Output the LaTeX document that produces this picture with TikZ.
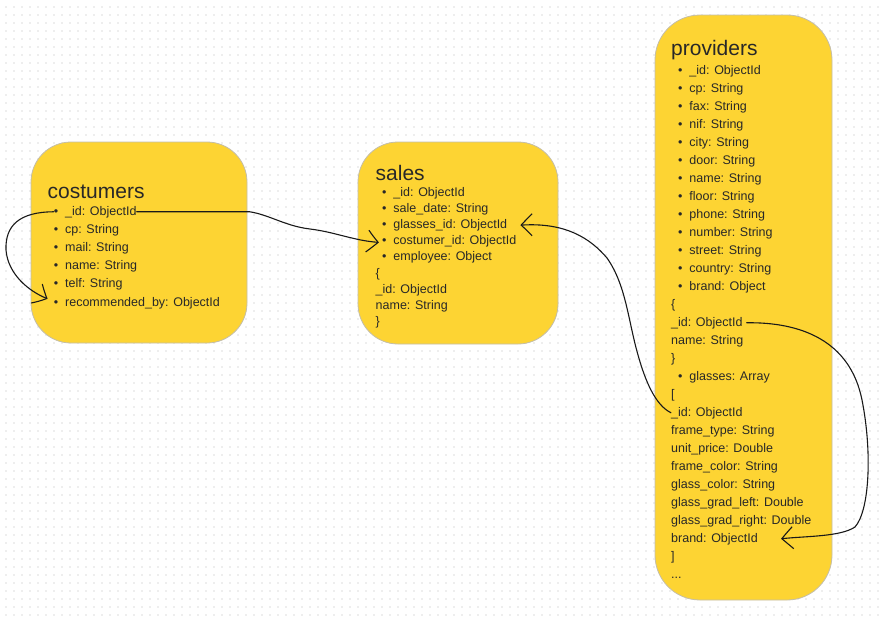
\documentclass[tikz,border=0pt]{standalone}
\usepackage{fontspec}
\setmainfont{Liberation Sans}
\usepackage{tikz}
\usetikzlibrary{arrows.meta,bending}

\definecolor{boxyellow}{RGB}{253,212,51}
\definecolor{boxline}{RGB}{196,190,170}
\definecolor{txt}{RGB}{40,40,40}
\definecolor{griddot}{RGB}{238,238,238}
\newcommand{\itemdot}{\textbullet\hspace{7pt}}

\begin{document}
\begin{tikzpicture}[x=1pt,y=-1pt]
	\useasboundingbox (0,0) rectangle (885,619);
	\foreach \y in {7,15,...,615}
		\draw[griddot,line width=2pt,dash pattern=on 2pt off 6pt] (5,\y) -- (885,\y);

	\begin{scope}[every node/.style={draw=boxline,fill=boxyellow,line width=0.8pt,rectangle}]
		\node[rounded corners=40pt,minimum width=216pt,minimum height=201pt] (costumers) at (139,242.5) {};
		\node[rounded corners=40pt,minimum width=200pt,minimum height=202pt] (sales) at (458,243) {};
		\node[rounded corners=45pt,minimum width=177pt,minimum height=585pt] (providers) at (743.5,307.5) {};
	\end{scope}

	\begin{scope}[every node/.style={anchor=base west,inner sep=0pt,text=txt,font=\fontsize{21}{25}\selectfont}]
		\node (c-title) at (47.5,198) {costumers};
		\node (s-title) at (375.5,180.5) {sales};
		\node (p-title) at (671,55.5) {providers};
	\end{scope}

	\begin{scope}[every node/.style={anchor=base west,inner sep=0pt,text=txt,font=\fontsize{12.5}{15}\selectfont}]
		\node (c-id) at (53.6,215) {\itemdot\_id: ObjectId};
		\node (c-cp) at (53.6,233.2) {\itemdot cp: String};
		\node (c-mail) at (53.6,251.4) {\itemdot mail: String};
		\node (c-name) at (53.6,269.6) {\itemdot name: String};
		\node (c-telf) at (53.6,287.8) {\itemdot telf: String};
		\node (c-rec) at (53.6,306) {\itemdot recommended\_by: ObjectId};

		\node (s-id) at (381.9,196) {\itemdot\_id: ObjectId};
		\node (s-date) at (381.9,212.2) {\itemdot sale\_date: String};
		\node (s-gid) at (381.9,228.4) {\itemdot glasses\_id: ObjectId};
		\node (s-cid) at (381.9,244.6) {\itemdot costumer\_id: ObjectId};
		\node (s-emp) at (381.9,260.8) {\itemdot employee: Object};
		\node (s-open) at (375.5,277) {\{};
		\node (s-eid) at (375.5,293.2) {\_id: ObjectId};
		\node (s-ename) at (375.5,309.4) {name: String};
		\node (s-close) at (375.5,325.6) {\}};

		\node (p-id) at (677.9,74) {\itemdot\_id: ObjectId};
		\node (p-cp) at (677.9,92) {\itemdot cp: String};
		\node (p-fax) at (677.9,110) {\itemdot fax: String};
		\node (p-nif) at (677.9,128) {\itemdot nif: String};
		\node (p-city) at (677.9,146) {\itemdot city: String};
		\node (p-door) at (677.9,164) {\itemdot door: String};
		\node (p-name) at (677.9,182) {\itemdot name: String};
		\node (p-floor) at (677.9,200) {\itemdot floor: String};
		\node (p-phone) at (677.9,218) {\itemdot phone: String};
		\node (p-number) at (677.9,236) {\itemdot number: String};
		\node (p-street) at (677.9,254) {\itemdot street: String};
		\node (p-country) at (677.9,272) {\itemdot country: String};
		\node (p-brand) at (677.9,290) {\itemdot brand: Object};
		\node (p-bopen) at (671,308) {\{};
		\node (p-bid) at (671,326) {\_id: ObjectId};
		\node (p-bname) at (671,344) {name: String};
		\node (p-bclose) at (671,362) {\}};
		\node (p-glasses) at (677.9,380) {\itemdot glasses: Array};
		\node (p-gopen) at (671,398) {[};
		\node (p-gid) at (671,416) {\_id: ObjectId};
		\node (p-gframe) at (671,434) {frame\_type: String};
		\node (p-gprice) at (671,452) {unit\_price: Double};
		\node (p-gfcol) at (671,470) {frame\_color: String};
		\node (p-ggcol) at (671,488) {glass\_color: String};
		\node (p-gleft) at (671,506) {glass\_grad\_left: Double};
		\node (p-gright) at (671,524) {glass\_grad\_right: Double};
		\node (p-gbr) at (671,542) {brand: ObjectId};
		\node (p-gclose) at (671,560) {]};
		\node (p-more) at (671,578) {...};
	\end{scope}

	\begin{scope}[every path/.style={draw=black!90,line width=1.1pt,line cap=round,
	              -{Straight Barb[length=11pt,width=22pt,bend]}}]
		\path (c-id.east) -- ++(113,0) .. controls (270,215) and (285,226) .. (310,229)
			.. controls (335,232) and (355,241) .. ([xshift=-3pt,yshift=-1pt]s-cid.west);
		\path (c-id.west) .. controls (20,212) and (5,225) .. (6,250)
			.. controls (8,275) and (30,292) .. ([xshift=-6pt,yshift=4pt]c-rec.west);
		\path (p-gid.west) .. controls (655,405) and (645,380) .. (638,355)
			.. controls (628,320) and (626,285) .. (607,258)
			.. controls (590,238) and (565,222) .. ([xshift=13pt]s-gid.east);
		\path ([xshift=4pt]p-bid.east) .. controls (800,322) and (850,340) .. (862,400)
			.. controls (872,450) and (870,510) .. (855,527)
			.. controls (840,537) and (805,536) .. ([xshift=23pt]p-gbr.east);
	\end{scope}
\end{tikzpicture}
\end{document}
